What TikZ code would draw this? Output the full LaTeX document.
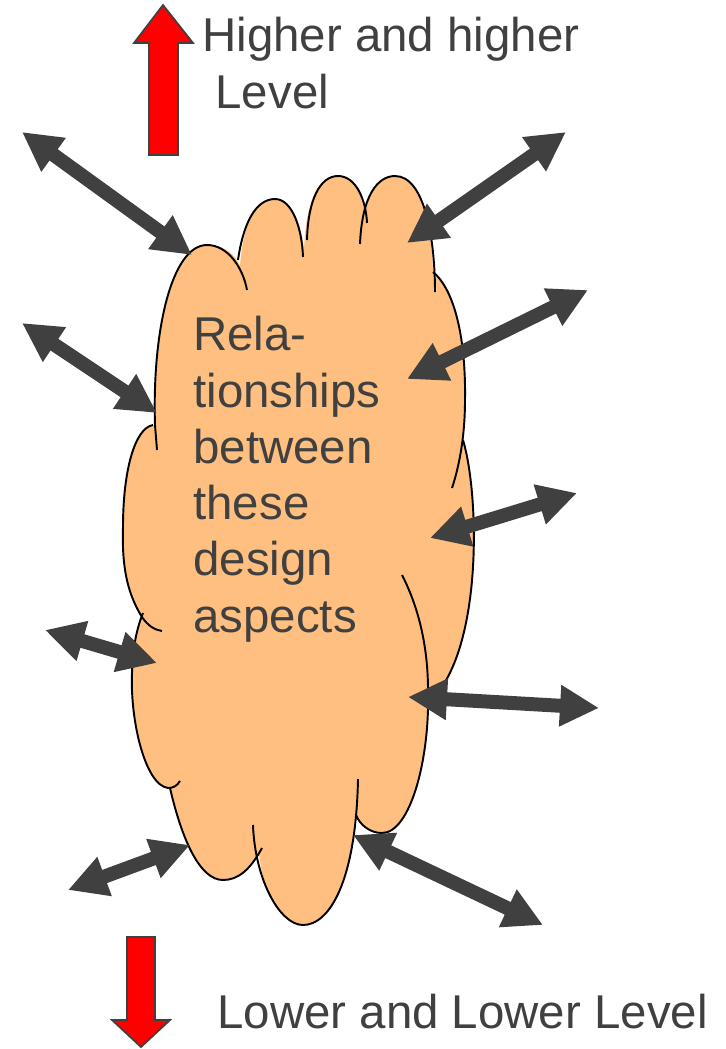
\documentclass[tikz,border=0pt]{standalone}
\usepackage{fontspec}
\setmainfont{Liberation Sans}
\usetikzlibrary{arrows.meta}
\definecolor{cloud-fill}{RGB}{255,191,128}
\definecolor{ink-gray}{RGB}{64,64,64}
\definecolor{level-red}{RGB}{255,0,0}

\begin{document}
\begin{tikzpicture}[
  x=0.02cm, y=-0.02cm,
  lbl/.style={font=\fontsize{27}{32}\selectfont, text=ink-gray, inner sep=0pt, align=left},
  link/.style={{Triangle[length=0.78cm,width=0.78cm]}-{Triangle[length=0.78cm,width=0.78cm]}, line width=0.28cm, draw=ink-gray},
  bump/.style={draw=black, line width=1.1pt},
  level/.style={fill=level-red, draw=ink-gray, line width=1pt}
]
  \useasboundingbox (0,0) rectangle (725,1049);

  % cloud body
  \fill[cloud-fill] (123,527) .. controls (123,470) and (135,428) .. (155,425)
    .. controls (152,330) and (172,245) .. (207,245)
    .. controls (226,245) and (236,256) .. (240,266)
    .. controls (243,225) and (255,199) .. (275,199)
    .. controls (292,199) and (302,225) .. (304,250)
    .. controls (306,200) and (318,176) .. (338,176)
    .. controls (355,176) and (363,195) .. (365,215)
    .. controls (368,190) and (378,176) .. (395,176)
    .. controls (420,176) and (432,225) .. (433,272)
    .. controls (455,290) and (466,340) .. (465,400)
    .. controls (465,420) and (464,430) .. (463,440)
    .. controls (478,490) and (482,620) .. (445,682)
    -- (428,690)
    .. controls (430,760) and (410,833) .. (382,833)
    .. controls (370,833) and (360,825) .. (356,815)
    .. controls (352,880) and (330,925) .. (303,925)
    .. controls (280,925) and (262,890) .. (259,852)
    .. controls (250,870) and (238,880) .. (223,880)
    .. controls (200,880) and (182,840) .. (170,788)
    .. controls (145,785) and (130,720) .. (132,673)
    .. controls (133,645) and (137,628) .. (142,617)
    .. controls (125,590) and (122,560) .. (123,527) -- cycle;

  % cloud outline, one arc per bump
  \draw[bump] (157,450) -- (155,425) .. controls (152,330) and (172,245) .. (207,245)
    .. controls (228,245) and (243,268) .. (247,290);
  \draw[bump] (238,260) .. controls (243,225) and (255,199) .. (275,199)
    .. controls (292,199) and (302,228) .. (303,257);
  \draw[bump] (307,240) .. controls (308,200) and (320,176) .. (338,176)
    .. controls (356,176) and (366,200) .. (367,223);
  \draw[bump] (360,244) .. controls (362,195) and (378,176) .. (395,176)
    .. controls (425,176) and (435,240) .. (435,292);
  \draw[bump] (433,272) .. controls (455,290) and (466,340) .. (465,400)
    .. controls (465,440) and (458,470) .. (452,488);
  \draw[bump] (463,440) .. controls (478,490) and (482,620) .. (445,682);
  \draw[bump] (402,575) .. controls (420,610) and (428,650) .. (428,690)
    .. controls (430,760) and (410,833) .. (382,833)
    .. controls (370,833) and (360,825) .. (356,815);
  \draw[bump] (358,779) .. controls (356,880) and (330,925) .. (303,925)
    .. controls (280,925) and (255,880) .. (253,825);
  \draw[bump] (262,848) .. controls (250,870) and (238,880) .. (223,880)
    .. controls (200,880) and (182,840) .. (170,788);
  \draw[bump] (180,781) .. controls (177,786) and (173,788) .. (168,788)
    .. controls (145,785) and (130,720) .. (132,673)
    .. controls (133,645) and (137,628) .. (143,613);
  \draw[bump] (153,425) .. controls (135,428) and (123,470) .. (123,527)
    .. controls (122,560) and (125,590) .. (142,617)
    .. controls (148,626) and (155,630) .. (162,631);

  \node[lbl, anchor=base west] (rel) at (193,632) {Rela-\\tionships\\between\\these\\design\\aspects};

  % level arrows
  \draw[level] (149,155) -- (149,43) -- (134,43) -- (163,5) -- (193,43) -- (178,43) -- (178,155) -- cycle;
  \draw[level] (127,937) -- (127,1020) -- (112,1020) -- (141,1047) -- (170,1020) -- (155,1020) -- (155,937) -- cycle;
  \node[lbl, anchor=base west] (higher) at (202,108) {Higher and higher\\\ Level};
  \node[lbl, anchor=base west] (lower) at (217,1028) {Lower and Lower Level};

  % ends of the links
  \coordinate (nw1) at (22,132);  \coordinate (nw1c) at (192,255);
  \coordinate (w2) at (22,323);   \coordinate (w2c) at (157,413);
  \coordinate (w3) at (45,630);   \coordinate (w3c) at (157,663);
  \coordinate (sw4) at (68,890);  \coordinate (sw4c) at (190,845);
  \coordinate (ne1) at (566,132); \coordinate (ne1c) at (407,243);
  \coordinate (e2) at (588,290);  \coordinate (e2c) at (407,379);
  \coordinate (e3) at (577,493);  \coordinate (e3c) at (430,538);
  \coordinate (e4) at (599,708);  \coordinate (e4c) at (408,697);
  \coordinate (se5) at (543,925); \coordinate (se5c) at (353,835);

  \draw[link] (nw1) -- (nw1c);
  \draw[link] (w2) -- (w2c);
  \draw[link] (w3) -- (w3c);
  \draw[link] (sw4) -- (sw4c);
  \draw[link] (ne1) -- (ne1c);
  \draw[link] (e2) -- (e2c);
  \draw[link] (e3) -- (e3c);
  \draw[link] (e4) -- (e4c);
  \draw[link] (se5) -- (se5c);
\end{tikzpicture}
\end{document}
